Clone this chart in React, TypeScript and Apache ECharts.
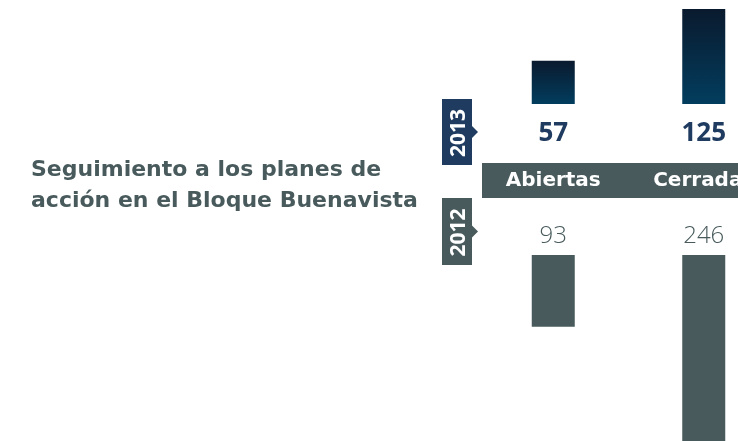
import React, { useEffect, useRef } from "react";
import * as echarts from "echarts";

const categories = ["Abiertas", "Cerradas"];
const values2013 = [57, 125];
const values2012 = [93, 246];
const years = ["2013", "2012"];
const titleLines = ["Seguimiento a los planes de", "acción en el Bloque Buenavista"];

const NAVY = "#1f3b60";
const SLATE = "#485a5c";

export default function App() {
  const ref = useRef<HTMLDivElement>(null);
  useEffect(() => {
    if (!ref.current) return;
    const chart = echarts.init(ref.current, null, { renderer: "svg" });
    const tag = (year: string, y0: number, h: number, color: string) => ({
      type: "group",
      children: [
        { type: "rect", shape: { x: 442, y: y0, width: 30, height: h }, style: { fill: color } },
        {
          type: "polygon",
          shape: { points: [[471, y0 + h / 2 - 7], [478, y0 + h / 2], [471, y0 + h / 2 + 7]] },
          style: { fill: color },
        },
        {
          type: "text",
          x: 457,
          y: y0 + h / 2 + 1,
          rotation: Math.PI / 2,
          style: {
            text: year,
            fill: "#ffffff",
            font: "bold 21px 'Open Sans'",
            align: "center",
            verticalAlign: "middle",
          },
        },
      ],
    });
    chart.setOption({
      animation: false,
      title: {
        text: titleLines.join("\n"),
        left: 26,
        top: 148,
        textStyle: { fontFamily: "DejaVu Sans", fontWeight: "bold", fontSize: 22, lineHeight: 31, color: SLATE },
      },
      grid: [
        { left: 478, top: 9, width: 301, height: 95, outerBoundsMode: "none", containLabel: false },
        { left: 478, top: 255, width: 301, height: 190, outerBoundsMode: "none", containLabel: false },
      ],
      xAxis: [
        {
          gridIndex: 0,
          type: "category",
          data: categories,
          axisLine: { show: false },
          axisTick: { show: false },
          axisLabel: { show: false },
        },
        {
          gridIndex: 1,
          type: "category",
          data: categories,
          position: "top",
          z: 10,
          axisLine: { show: false },
          axisTick: { show: false },
          axisLabel: {
            show: true,
            color: "#ffffff",
            fontFamily: "DejaVu Sans",
            fontWeight: "bold",
            fontSize: 20,
            margin: 66,
          },
        },
      ],
      yAxis: [
        { gridIndex: 0, type: "value", min: 0, max: 125, show: false, splitLine: { show: false } },
        { gridIndex: 1, type: "value", min: 0, max: 246, inverse: true, show: false, splitLine: { show: false } },
      ],
      series: [
        {
          type: "bar",
          name: years[0],
          xAxisIndex: 0,
          yAxisIndex: 0,
          data: values2013,
          barWidth: 43,
          itemStyle: {
            color: new echarts.graphic.LinearGradient(0, 0, 0, 1, [
              { offset: 0, color: "#0a1a2e" },
              { offset: 1, color: "#023d5e" },
            ]),
          },
          label: {
            show: true,
            position: "bottom",
            distance: 14,
            fontFamily: "Open Sans",
            fontWeight: "bold",
            fontSize: 26,
            color: NAVY,
          },
        },
        {
          type: "bar",
          name: years[1],
          xAxisIndex: 1,
          yAxisIndex: 1,
          data: values2012,
          barWidth: 43,
          itemStyle: { color: SLATE },
          label: {
            show: true,
            position: "top",
            distance: 10,
            fontFamily: "Open Sans",
            fontWeight: 300,
            fontSize: 24,
            color: SLATE,
          },
        },
      ],
      graphic: [
        { type: "rect", z: 0, shape: { x: 482, y: 163, width: 260, height: 35 }, style: { fill: SLATE } },
        tag(years[0], 99, 66, NAVY),
        tag(years[1], 198, 67, SLATE),
      ],
    });
    return () => chart.dispose();
  }, []);
  return <div ref={ref} style={{ position: "fixed", left: 0, top: 0, width: 738, height: 441 }} />;
}
